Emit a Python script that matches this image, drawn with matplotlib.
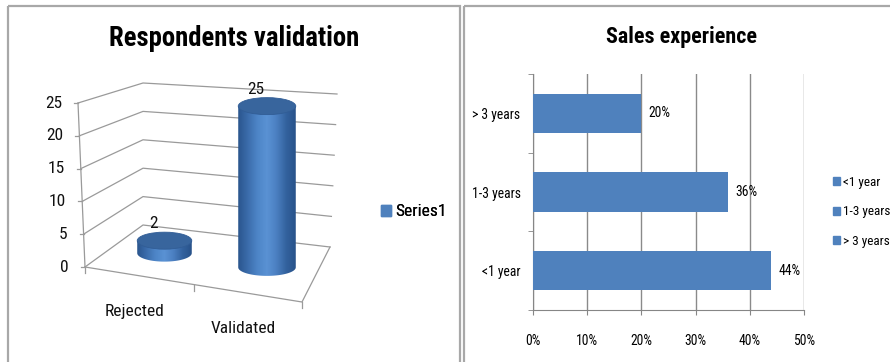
import numpy as np
import matplotlib
matplotlib.use("Agg")
import matplotlib.pyplot as plt
from matplotlib.patches import Polygon, Ellipse, Rectangle, Patch
from matplotlib.colors import LinearSegmentedColormap

# ---- data -------------------------------------------------------------
status_labels = ["Rejected", "Validated"]
status_counts = [2, 25]
count_ticks = [0, 5, 10, 15, 20, 25]

experience_labels = ["<1 year", "1-3 years", "> 3 years"]
experience_share = [44, 36, 20]
share_ticks = [0, 10, 20, 30, 40, 50]

# ---- style ------------------------------------------------------------
FONT = ["Roboto Condensed", "Lato", "DejaVu Sans"]
plt.rcParams["font.family"] = FONT
BLUE = "#4F81BD"
GRID = "#9A9A9A"
FRAME = "#A8A8A8"

W, H = 890, 362
fig = plt.figure(figsize=(W / 100, H / 100), dpi=100)
fig.patch.set_facecolor("white")

# full-figure canvas in pixel units (y downwards) for the panels and the 3-D chart
canvas = fig.add_axes([0, 0, 1, 1])
canvas.set_xlim(0, W)
canvas.set_ylim(H, 0)
canvas.axis("off")

# chart frames
for x0, x1 in [(7.5, 460), (463.5, 900)]:
    canvas.add_patch(Rectangle((x0, 5.5), x1 - x0, 400, fill=False,
                               ec=FRAME, lw=1.6, zorder=1))

# ---- left chart: 3-D cylinder column chart ----------------------------
# oblique projection: u across categories, w into depth, v is the value
floor_pts = {(0, 0): (85, 267), (1, 0): (302, 302), (0, 1): (143, 225), (1, 1): (330, 247)}
lift_pts = {(0, 0): (-7, -164), (1, 0): (9, -175), (0, 1): (0, -142), (1, 1): (7, -153)}
vmax = count_ticks[-1]


def bilinear(c, u, w):
    return (np.array(c[(0, 0)]) * (1 - u) * (1 - w) + np.array(c[(1, 0)]) * u * (1 - w)
            + np.array(c[(0, 1)]) * (1 - u) * w + np.array(c[(1, 1)]) * u * w)


def proj(u, w, v):
    return bilinear(floor_pts, u, w) + (v / vmax) * bilinear(lift_pts, u, w)


# walls and gridlines
for v in count_ticks:
    pts = np.array([proj(0, 0, v), proj(0, 1, v), proj(1, 1, v)])
    canvas.plot(pts[:, 0], pts[:, 1], color=GRID, lw=0.9, zorder=2)
    p = proj(0, 0, v)
    canvas.plot([p[0] - 4, p[0]], [p[1], p[1]], color=GRID, lw=0.9, zorder=2)
    canvas.text(p[0] - 16, p[1], str(v), ha="right", va="center",
                fontsize=12.5, color="#111111")

axis_pts = np.array([proj(0, 0, 0), proj(0, 0, vmax)])
canvas.plot(axis_pts[:, 0], axis_pts[:, 1], color=GRID, lw=0.9, zorder=2)
floor_edge = np.array([proj(0, 0, 0), proj(1, 0, 0), proj(1, 1, 0)])
canvas.plot(floor_edge[:, 0], floor_edge[:, 1], color=GRID, lw=0.9, zorder=2)
n_cat = len(status_labels)
for k in range(n_cat + 1):
    p = proj(k / n_cat, 0, 0)
    canvas.plot([p[0], p[0]], [p[1], p[1] + 6], color=GRID, lw=0.9, zorder=2)

body_cmap = LinearSegmentedColormap.from_list(
    "cyl", ["#2A558D", "#3B6CAB", "#4D85C7", "#5A92D4", "#4B7FC1", "#33629E", "#28528A"])
grad = np.linspace(0, 1, 200)[None, :]

for i, (lab, val) in enumerate(zip(status_labels, status_counts)):
    u = (i + 0.5) / n_cat
    base = proj(u, 0.5, 0)
    top = proj(u, 0.5, val)
    cx = base[0] + (i * 1.5)
    r = (proj(u + 0.135, 0.5, 0)[0] - proj(u - 0.135, 0.5, 0)[0]) / 2 + i * 1.5
    ry = 8.5
    yb, yt = base[1], top[1]
    t = np.linspace(0, np.pi, 60)
    lower = np.column_stack([cx - r * np.cos(t), yb + ry * np.sin(t)])
    verts = np.vstack([[cx - r, yt], lower, [cx + r, yt]])
    body = Polygon(verts, closed=True, fc="none", ec="none", zorder=4)
    canvas.add_patch(body)
    im = canvas.imshow(grad, extent=(cx - r, cx + r, yb + ry + 1, yt - 1),
                       aspect="auto", cmap=body_cmap, zorder=4, interpolation="bilinear")
    im.set_clip_path(body)
    canvas.add_patch(Ellipse((cx, yt), 2 * r, 2 * ry, fc="#38659D", ec="#315D96",
                             lw=0.6, zorder=5))
    canvas.text(cx - 11, yt - 17, str(val), ha="center", va="center",
                fontsize=12.5, color="#111111", zorder=6)
    lp = proj(u, 0, 0)
    canvas.text(lp[0] - 4.5, lp[1] + 35.5, lab, ha="center", va="center",
                fontsize=12.5, color="#111111")

canvas.set_xlim(0, W)
canvas.set_ylim(H, 0)

canvas.text(234, 38, "Respondents validation", ha="center", va="center",
            fontsize=19.3, fontweight="bold", color="#000000")

leg1 = canvas.legend(handles=[Patch(color=BLUE, label="Series1")],
                     loc="center left", bbox_to_anchor=(381 / W, 1 - 212 / H),
                     bbox_transform=fig.transFigure, frameon=False,
                     fontsize=12.5, handlelength=0.55, handleheight=0.6,
                     handletextpad=0.25, borderpad=0, borderaxespad=0)
canvas.add_artist(leg1)

# ---- right chart: horizontal bars ---------------------------------------
ax = fig.add_axes([533 / W, 1 - 310 / H, 271 / W, 236 / H])
ypos = np.arange(len(experience_labels))
bars = ax.barh(ypos, experience_share, height=0.5, color=BLUE, zorder=3)
ax.set_xlim(share_ticks[0], share_ticks[-1])
ax.set_ylim(-0.5, len(experience_labels) - 0.5)
ax.set_xticks(share_ticks)
ax.set_xticklabels([f"{t}%" for t in share_ticks], fontsize=9.8)
ax.set_yticks(ypos)
ax.set_yticklabels(experience_labels, fontsize=9.8)
ax.set_yticks(np.arange(-0.5, len(experience_labels)), minor=True)
ax.tick_params(axis="y", which="major", length=0, pad=9)
ax.tick_params(axis="y", which="minor", length=3.5, color="#868686", direction="out")
ax.tick_params(axis="x", length=3.5, color="#868686", direction="out", pad=13.5)
ax.xaxis.grid(True, color="#8A8A8A", lw=1, zorder=0)
for s in ["top", "right"]:
    ax.spines[s].set_visible(False)
for s in ["left", "bottom"]:
    ax.spines[s].set_color("#868686")
ax.set_facecolor("none")
for b, v in zip(bars, experience_share):
    ax.annotate(f"{v}%", (v, b.get_y() + b.get_height() / 2), xytext=(5, 0),
                textcoords="offset points", va="center", ha="left", fontsize=9.8)

fig.text(682 / W, 1 - 37 / H, "Sales experience", ha="center", va="center",
         fontsize=15.8, fontweight="bold")

fig.legend(handles=[Patch(color=BLUE, label=l) for l in experience_labels],
           loc="center left", bbox_to_anchor=(833 / W, 1 - 212 / H),
           frameon=False, fontsize=9.5, handlelength=0.55, handleheight=0.55,
           handletextpad=0.2, labelspacing=1.25, borderpad=0, borderaxespad=0)

fig.savefig("out.png", dpi=100)
